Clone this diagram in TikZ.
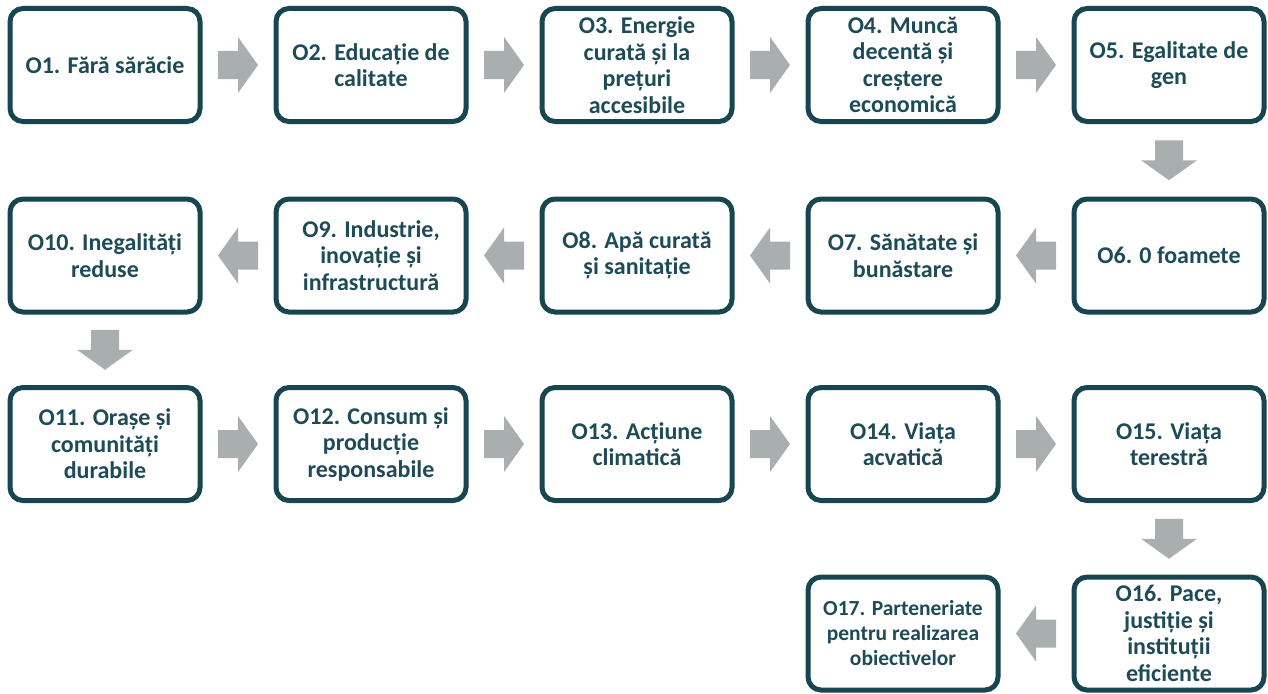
\documentclass[tikz,border=0pt]{standalone}
\usepackage{fontspec}
\setmainfont{Carlito}
\usetikzlibrary{calc}
\definecolor{boxc}{HTML}{174650}
\definecolor{txtc}{HTML}{1D4B57}
\definecolor{arrc}{HTML}{A9AFAF}
\tikzset{
  goalbox/.style={draw=boxc, line width=5pt, rounded corners=13pt, fill=white,
    minimum width=190pt, minimum height=113pt, inner sep=0pt, text=txtc,
    align=center, font=\bfseries\fontsize{24}{26.5}\selectfont},
  smalltext/.style={font=\bfseries\fontsize{21.5}{25}\selectfont},
  blockarrow/.pic={\fill[arrc] (-20,-14) -- (0,-14) -- (0,-28) -- (20,0) -- (0,28) -- (0,14) -- (-20,14) -- cycle;}
}
\begin{document}
\begin{tikzpicture}[x=1pt,y=-1pt]
\useasboundingbox (0,0) rectangle (1268,693);
% row 1
\node[goalbox] (o1) at (105,65) {O1. Fără sărăcie};
\node[goalbox] (o2) at (371,65) {O2. Educație de\\calitate};
\node[goalbox] (o3) at (637,65) {O3. Energie\\curată și la\\prețuri\\accesibile};
\node[goalbox] (o4) at (903,65) {O4. Muncă\\decentă și\\creștere\\economică};
\node[goalbox] (o5) at (1169,65) {O5. Egalitate de\\gen};
% row 2
\node[goalbox] (o6) at (1169,255.5) {O6. 0 foamete};
\node[goalbox] (o7) at (903,255.5) {O7. Sănătate și\\bunăstare};
\node[goalbox] (o8) at (637,255.5) {O8. Apă curată\\și sanitație};
\node[goalbox] (o9) at (371,255.5) {O9. Industrie,\\inovație și\\infrastructură};
\node[goalbox] (o10) at (105,255.5) {O10. Inegalități\\reduse};
% row 3
\node[goalbox] (o11) at (105,444) {O11. Orașe și\\comunități\\durabile};
\node[goalbox] (o12) at (371,444) {O12. Consum și\\producție\\responsabile};
\node[goalbox] (o13) at (637,444) {O13. Acțiune\\climatică};
\node[goalbox] (o14) at (903,444) {O14. Viața\\acvatică};
\node[goalbox] (o15) at (1169,444) {O15. Viața\\terestră};
% row 4
\node[goalbox] (o16) at (1169,633.5) {O16. Pace,\\justiție și\\instituții\\eficiente};
\node[goalbox,smalltext] (o17) at (903,633.5) {O17. Parteneriate\\pentru realizarea\\obiectivelor};
% arrows
\pic at ($(o1.east)!0.5!(o2.west)$) {blockarrow};
\pic at ($(o2.east)!0.5!(o3.west)$) {blockarrow};
\pic at ($(o3.east)!0.5!(o4.west)$) {blockarrow};
\pic at ($(o4.east)!0.5!(o5.west)$) {blockarrow};
\pic[rotate=-90] at ($(o5.south)!0.5!(o6.north)$) {blockarrow};
\pic[rotate=180] at ($(o6.west)!0.5!(o7.east)$) {blockarrow};
\pic[rotate=180] at ($(o7.west)!0.5!(o8.east)$) {blockarrow};
\pic[rotate=180] at ($(o8.west)!0.5!(o9.east)$) {blockarrow};
\pic[rotate=180] at ($(o9.west)!0.5!(o10.east)$) {blockarrow};
\pic[rotate=-90] at ($(o10.south)!0.5!(o11.north)$) {blockarrow};
\pic at ($(o11.east)!0.5!(o12.west)$) {blockarrow};
\pic at ($(o12.east)!0.5!(o13.west)$) {blockarrow};
\pic at ($(o13.east)!0.5!(o14.west)$) {blockarrow};
\pic at ($(o14.east)!0.5!(o15.west)$) {blockarrow};
\pic[rotate=-90] at ($(o15.south)!0.5!(o16.north)$) {blockarrow};
\pic[rotate=180] at ($(o16.west)!0.5!(o17.east)$) {blockarrow};
\end{tikzpicture}
\end{document}
